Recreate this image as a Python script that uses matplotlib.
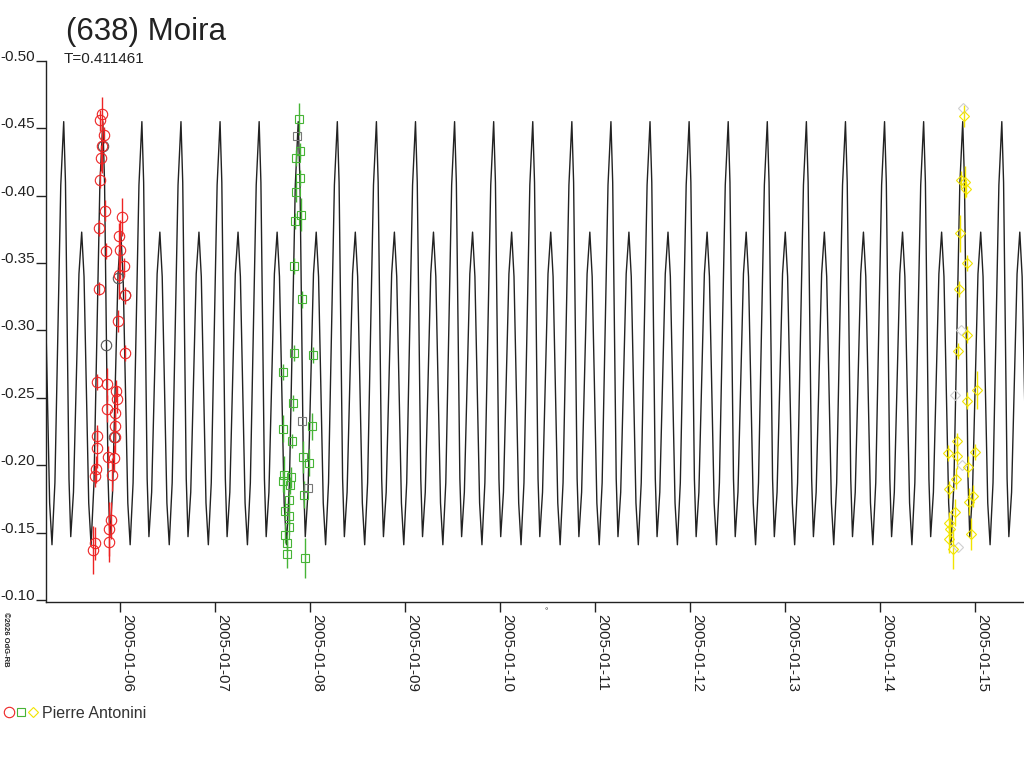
import numpy as np
import matplotlib
matplotlib.use("Agg")
import matplotlib.pyplot as plt
from matplotlib.legend_handler import HandlerTuple
from matplotlib.lines import Line2D

plt.rcParams['font.family'] = ['Liberation Sans', 'DejaVu Sans']

# x values: day of January 2005 (UT), y values: relative magnitude
period = 0.411461
first_max = 5.4074

# one cycle of the model light curve, phase 0 = main maximum
cycle_phase = [0.0, 0.045, 0.09, 0.135, 0.18, 0.25, 0.32, 0.39, 0.46,
               0.52, 0.58, 0.64, 0.70, 0.775, 0.85, 0.925]
cycle_mag = [-0.455, -0.410, -0.300, -0.190, -0.147, -0.180, -0.262, -0.342, -0.373,
             -0.340, -0.255, -0.172, -0.141, -0.187, -0.298, -0.408]

# session 1 (red circles)
red_day = [5.811, 5.789, 5.832, 5.811, 5.803, 5.789, 5.845, 5.782, 6.021, 5.853,
           5.993, 6.000, 6.045, 5.986, 5.776, 6.049, 5.979, 6.056, 5.761, 5.866,
           5.958, 5.972, 5.866, 5.951, 5.951, 5.755, 5.944, 5.755, 5.874, 5.937,
           5.747, 5.916, 5.740, 5.902, 5.887, 5.881, 5.740, 5.713]
red_mag = [-0.461, -0.456, -0.445, -0.437, -0.428, -0.412, -0.389, -0.376, -0.384, -0.359,
           -0.370, -0.360, -0.348, -0.341, -0.331, -0.326, -0.307, -0.283, -0.262, -0.260,
           -0.255, -0.249, -0.242, -0.239, -0.229, -0.222, -0.221, -0.213, -0.206, -0.205,
           -0.197, -0.193, -0.192, -0.159, -0.153, -0.143, -0.142, -0.137]
red_err = [0.012, 0.008, 0.006, 0.020, 0.010, 0.006, 0.008, 0.006, 0.014, 0.006,
           0.010, 0.022, 0.006, 0.018, 0.005, 0.006, 0.008, 0.006, 0.006, 0.012,
           0.008, 0.010, 0.010, 0.012, 0.010, 0.008, 0.012, 0.015, 0.008, 0.010,
           0.010, 0.012, 0.008, 0.014, 0.020, 0.015, 0.012, 0.018]
red_grey_day = [5.821, 5.979, 6.053, 5.853, 5.937]
red_grey_mag = [-0.437, -0.339, -0.326, -0.289, -0.221]

# session 2 (green squares)
green_day = [7.884, 7.898, 7.849, 7.898, 7.849, 7.905, 7.839, 7.828, 7.913, 7.828,
             8.035, 7.713, 7.818, 8.018, 7.713, 7.814, 7.923, 7.989, 7.726, 7.797,
             7.719, 7.789, 7.934, 7.782, 7.740, 7.776, 7.776, 7.740, 7.755, 7.761,
             7.944]
green_mag = [-0.457, -0.433, -0.428, -0.413, -0.403, -0.386, -0.381, -0.348, -0.323, -0.283,
             -0.282, -0.269, -0.246, -0.229, -0.227, -0.218, -0.206, -0.202, -0.193, -0.191,
             -0.188, -0.185, -0.178, -0.174, -0.166, -0.162, -0.154, -0.148, -0.142, -0.134,
             -0.131]
green_err = [0.012, 0.006, 0.006, 0.006, 0.008, 0.012, 0.006, 0.006, 0.006, 0.006,
             0.006, 0.006, 0.006, 0.010, 0.010, 0.005, 0.012, 0.010, 0.014, 0.008,
             0.008, 0.006, 0.010, 0.006, 0.006, 0.006, 0.006, 0.006, 0.006, 0.010,
             0.015]
green_grey_day = [7.860, 7.919, 7.979]
green_grey_mag = [-0.444, -0.233, -0.183]

# session 3 (yellow diamonds)
yellow_day = [14.880, 14.850, 14.898, 14.905, 14.839, 14.913, 14.835, 14.919, 14.824, 15.018,
              14.919, 14.814, 14.719, 14.811, 14.996, 14.926, 14.803, 14.723, 14.976, 14.940,
              14.786, 14.731, 14.742, 14.731, 14.961, 14.770]
yellow_mag = [-0.459, -0.412, -0.410, -0.405, -0.372, -0.350, -0.331, -0.297, -0.285, -0.256,
              -0.248, -0.218, -0.209, -0.207, -0.210, -0.199, -0.190, -0.182, -0.177, -0.173,
              -0.165, -0.157, -0.153, -0.145, -0.149, -0.138]
yellow_err = [0.008, 0.006, 0.012, 0.006, 0.014, 0.006, 0.006, 0.006, 0.006, 0.014,
              0.006, 0.006, 0.006, 0.010, 0.006, 0.008, 0.008, 0.006, 0.008, 0.010,
              0.010, 0.008, 0.008, 0.010, 0.012, 0.015]
yellow_grey_day = [14.877, 14.853, 14.790, 14.860, 14.820]
yellow_grey_mag = [-0.465, -0.300, -0.252, -0.200, -0.139]

y_ticks = [-0.50, -0.45, -0.40, -0.35, -0.30, -0.25, -0.20, -0.15, -0.10]
x_ticks = [6, 7, 8, 9, 10, 11, 12, 13, 14, 15]
x_labels = ['2005-01-06', '2005-01-07', '2005-01-08', '2005-01-09', '2005-01-10',
            '2005-01-11', '2005-01-12', '2005-01-13', '2005-01-14', '2005-01-15']

red = '#ee2424'
green = '#46b436'
yellow = '#f2e400'
ink = '#222222'

fig = plt.figure(figsize=(10.24, 7.68), dpi=100)
ax = fig.add_axes([46 / 1024, 1 - 602 / 768, 978 / 1024, 541 / 768])

# model curve, the cycle repeated over the whole range
cycles = np.arange(-1, 27)
t_model = (first_max + (cycles[:, None] + np.array(cycle_phase)[None, :]) * period).ravel()
m_model = np.tile(cycle_mag, len(cycles))
ax.plot(t_model, m_model, color=ink, lw=1.0, zorder=2)

ax.errorbar(red_day, red_mag, yerr=red_err, fmt='o', ms=7.5, mfc='none', mec=red,
            mew=0.8, ecolor=red, elinewidth=1.0, capsize=0, zorder=3)
ax.plot(red_grey_day, red_grey_mag, 'o', ms=7.5, mfc='none', mec='#555555', mew=0.8, zorder=3)

ax.errorbar(green_day, green_mag, yerr=green_err, fmt='s', ms=5.5, mfc='none', mec=green,
            mew=0.8, ecolor=green, elinewidth=1.0, capsize=0, zorder=3)
ax.plot(green_grey_day, green_grey_mag, 's', ms=5.5, mfc='none', mec='#777777', mew=0.8, zorder=3)

ax.errorbar(yellow_day, yellow_mag, yerr=yellow_err, fmt='D', ms=5.5, mfc='none', mec=yellow,
            mew=0.8, ecolor=yellow, elinewidth=1.0, capsize=0, zorder=3)
ax.plot(yellow_grey_day, yellow_grey_mag, 'D', ms=5.5, mfc='none', mec='#cfcfcf', mew=0.8, zorder=3)

ax.set_xlim(5.221, 15.516)
ax.set_ylim(-0.0985, -0.50)

for side in ['top', 'right']:
    ax.spines[side].set_visible(False)
for side in ['left', 'bottom']:
    ax.spines[side].set_color(ink)
    ax.spines[side].set_linewidth(1.0)

ax.set_yticks(y_ticks)
ax.set_yticklabels([f'{v:.2f}' for v in y_ticks])
ax.tick_params(axis='y', length=7.2, width=1.0, color=ink, pad=0.5, labelsize=11, labelcolor=ink)
for lab in ax.get_yticklabels():
    lab.set_verticalalignment('baseline')

ax.set_xticks(x_ticks)
ax.set_xticklabels(x_labels, rotation=270, ha='left', va='top')
ax.tick_params(axis='x', length=7.2, width=1.0, color=ink, pad=1.5, labelsize=11, labelcolor=ink)

ax.text(10.484, -0.012, '°', transform=ax.get_xaxis_transform(), fontsize=6,
        color=ink, ha='center', va='top', clip_on=False)

fig.text(66 / 1024, 1 - 40 / 768, '(638) Moira', fontsize=22.5, color=ink, va='baseline')
fig.text(64 / 1024, 1 - 63 / 768, 'T=0.411461', fontsize=11, color=ink, va='baseline')
fig.text(2 / 1024, 1 - 612 / 768, '©2026 OdG-RB', rotation=270, fontsize=5.5,
         fontweight='bold', color=ink, ha='left', va='top')

h_red = Line2D([], [], marker='o', ls='none', ms=7.5, mfc='none', mec=red, mew=0.8)
h_green = Line2D([], [], marker='s', ls='none', ms=5.5, mfc='none', mec=green, mew=0.8)
h_yellow = Line2D([], [], marker='D', ls='none', ms=5.5, mfc='none', mec=yellow, mew=0.8)
fig.legend([(h_red, h_green, h_yellow)], ['Pierre Antonini'],
           handler_map={tuple: HandlerTuple(ndivide=None, pad=0.05)},
           loc='center left', bbox_to_anchor=(0.0, 1 - 713 / 768), frameon=False,
           fontsize=11.5, labelcolor='#333333', handlelength=2.2, handletextpad=0.25,
           borderaxespad=0, borderpad=0.2)

fig.savefig('out.png', dpi=100)
